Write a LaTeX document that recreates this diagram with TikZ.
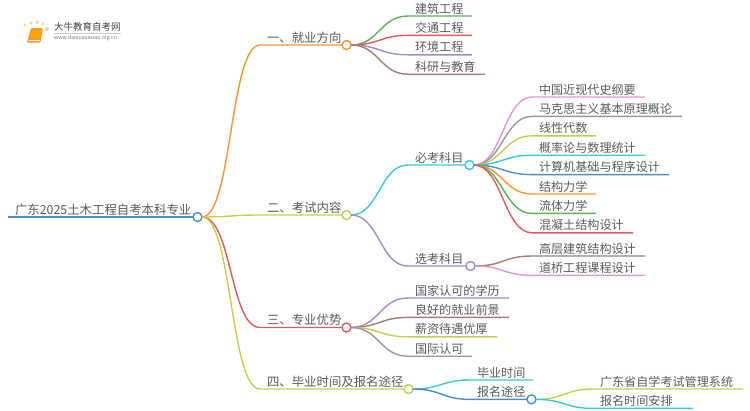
\documentclass[tikz,border=0pt]{standalone}
\usepackage{fontspec}
\setmainfont{Noto Sans CJK SC}
\usetikzlibrary{positioning}
\definecolor{cBlue}{HTML}{4A90C8}
\definecolor{cOrange}{HTML}{FF9433}
\definecolor{cOlive}{HTML}{CBCB52}
\definecolor{cRed}{HTML}{E05A5B}
\definecolor{cGreen}{HTML}{56B356}
\definecolor{cPurple}{HTML}{A988CC}
\definecolor{cBrown}{HTML}{A37D75}
\definecolor{cPink}{HTML}{EB93D2}
\definecolor{cGray}{HTML}{999999}
\definecolor{cCyan}{HTML}{38C9DA}
\definecolor{cText}{HTML}{5A5A5A}
\begin{document}
\begin{tikzpicture}[x=1pt,y=-1pt,
 topic/.style={anchor=south west,inner sep=0pt,outer sep=0pt,text width=#1,text height=11pt,text depth=3pt,font=\fontsize{12.1}{14}\selectfont,text=cText,execute at begin node=\hspace*{7pt}},
 major/.style={font=\fontsize{12.4}{14}\selectfont},
 next/.style={below=19.4pt of #1.south west,anchor=south west},
 hub/.style={circle,draw=#1,fill=white,line width=1.4pt,inner sep=0pt,outer sep=0pt,minimum size=9pt,right=0pt},
 wire/.style={line width=1.4pt,draw=#1,line join=round},
 curve/.style={out=0,in=180,distance=#1}]
\useasboundingbox (0,0) rectangle (750,410);
% logo
\fill[cOrange!45] (25,25) circle (1.6) (31,23) circle (1.8) (37,22) circle (1.8) (43,24) circle (1.7) (47,29) circle (2);
\fill[cOrange!25] (22,30) circle (1.2) (21,36) circle (1) (23,42) circle (.9);
\fill[rounded corners=1pt,cOrange] (31,28) -- (43,28) -- (40.5,42.5) -- (27,42.5) -- cycle;
\fill[rounded corners=1pt,orange!70!yellow] (32,29) -- (42,29) -- (40,38) -- (30,38) -- cycle;
\draw[white,line width=.6pt] (28.5,40.5) -- (39.5,40.5);
\node[anchor=west,inner sep=0pt,font=\fontsize{9.5}{11}\selectfont,text=black!75] (logoName) at (54,27) {大牛教育自考网};
\node[anchor=west,inner sep=0pt,font=\fontsize{5.2}{6}\selectfont,text=black!55] (logoUrl) at (54,38.5) {www.daniuxuexiao.org.cn};
\draw[black!20,line width=.5pt] (logoName.south west)++(0,1.5) -- ++(67,0);
% nodes
\node[topic=185pt,major] (root) at (8,217) {广东2025土木工程自考本科专业};
\node[hub=cBlue,right=0pt of root.south east] (hubRoot) {};
\node[topic=82pt,major] (jobs) at (260,45) {一、就业方向};
\node[hub=cOrange,right=0pt of jobs.south east] (hubJobs) {};
\node[topic=82pt,major] (exam) at (260,215) {二、考试内容};
\node[hub=cOlive,right=0pt of exam.south east] (hubExam) {};
\node[topic=82pt,major] (gain) at (260,327.5) {三、专业优势};
\node[hub=cRed,right=0pt of gain.south east] (hubGain) {};
\node[topic=144pt,major] (apply) at (260,389) {四、毕业时间及报名途径};
\node[hub=cOlive,right=0pt of apply.south east] (hubApply) {};
\node[topic=64pt] (civil) at (408,16) {建筑工程};
\node[topic=64pt,next=civil] (traffic) {交通工程};
\node[topic=64pt,next=traffic] (envir) {环境工程};
\node[topic=77pt,next=envir] (research) {科研与教育};
\node[topic=57pt] (must) at (408,165) {必考科目};
\node[hub=cCyan,right=0pt of must.south east] (hubMust) {};
\node[topic=113pt] (history) at (532,97) {中国近现代史纲要};
\node[topic=150pt,next=history] (marx) {马克思主义基本原理概论};
\node[topic=64pt,next=marx] (algebra) {线性代数};
\node[topic=113pt,next=algebra] (stats) {概率论与数理统计};
\node[topic=137pt,next=stats] (program) {计算机基础与程序设计};
\node[topic=64pt,next=program] (struct) {结构力学};
\node[topic=64pt,next=struct] (fluid) {流体力学};
\node[topic=101pt,next=fluid] (concrete) {混凝土结构设计};
\node[topic=58pt] (option) at (408,266) {选考科目};
\node[hub=cPurple,right=0pt of option.south east] (hubOption) {};
\node[topic=113pt] (tower) at (532,256) {高层建筑结构设计};
\node[topic=113pt,next=tower] (bridge) {道桥工程课程设计};
\node[topic=101pt] (degree) at (408,298) {国家认可的学历};
\node[topic=101pt,next=degree] (future) {良好的就业前景};
\node[topic=89pt,next=future] (salary) {薪资待遇优厚};
\node[topic=64pt,next=salary] (global) {国际认可};
\node[topic=63pt] (gradtime) at (470,380) {毕业时间};
\node[topic=57pt,next=gradtime] (route) {报名途径};
\node[hub=cBlue,right=0pt of route.south east] (hubRoute) {};
\node[topic=150pt] (system) at (593,389) {广东省自学考试管理系统};
\node[topic=100pt,next=system] (schedule) {报名时间安排};
% connectors
\draw[wire=cBlue] (root.south west) -- (hubRoot.west);
\draw[wire=cOrange] (hubRoot.east) to[curve=30pt] (jobs.south west) -- (hubJobs.west);
\draw[wire=cOlive] (hubRoot.east) to[curve=30pt] (exam.south west) -- (hubExam.west);
\draw[wire=cRed] (hubRoot.east) to[curve=30pt] (gain.south west) -- (hubGain.west);
\draw[wire=cOlive] (hubRoot.east) to[curve=30pt] (apply.south west) -- (hubApply.west);
\draw[wire=cGreen] (hubJobs.east) to[curve=28pt] (civil.south west) -- (civil.south east);
\draw[wire=cRed] (hubJobs.east) to[curve=28pt] (traffic.south west) -- (traffic.south east);
\draw[wire=cPurple] (hubJobs.east) to[curve=28pt] (envir.south west) -- (envir.south east);
\draw[wire=cBrown] (hubJobs.east) to[curve=28pt] (research.south west) -- (research.south east);
\draw[wire=cCyan] (hubExam.east) to[curve=28pt] (must.south west) -- (hubMust.west);
\draw[wire=cPurple] (hubExam.east) to[curve=28pt] (option.south west) -- (hubOption.west);
\draw[wire=cPink] (hubMust.east) to[curve=28pt] (history.south west) -- (history.south east);
\draw[wire=cGray] (hubMust.east) to[curve=28pt] (marx.south west) -- (marx.south east);
\draw[wire=cOlive] (hubMust.east) to[curve=28pt] (algebra.south west) -- (algebra.south east);
\draw[wire=cCyan] (hubMust.east) to[curve=28pt] (stats.south west) -- (stats.south east);
\draw[wire=cBlue] (hubMust.east) to[curve=28pt] (program.south west) -- (program.south east);
\draw[wire=cOrange] (hubMust.east) to[curve=28pt] (struct.south west) -- (struct.south east);
\draw[wire=cGreen] (hubMust.east) to[curve=28pt] (fluid.south west) -- (fluid.south east);
\draw[wire=cRed] (hubMust.east) to[curve=28pt] (concrete.south west) -- (concrete.south east);
\draw[wire=cBrown] (hubOption.east) to[curve=28pt] (tower.south west) -- (tower.south east);
\draw[wire=cPink] (hubOption.east) to[curve=28pt] (bridge.south west) -- (bridge.south east);
\draw[wire=cPurple] (hubGain.east) to[curve=28pt] (degree.south west) -- (degree.south east);
\draw[wire=cBrown] (hubGain.east) to[curve=28pt] (future.south west) -- (future.south east);
\draw[wire=cOlive] (hubGain.east) to[curve=28pt] (salary.south west) -- (salary.south east);
\draw[wire=cGray] (hubGain.east) to[curve=28pt] (global.south west) -- (global.south east);
\draw[wire=cCyan] (hubApply.east) to[curve=28pt] (gradtime.south west) -- (gradtime.south east);
\draw[wire=cBlue] (hubApply.east) to[curve=28pt] (route.south west) -- (hubRoute.west);
\draw[wire=cOlive] (hubRoute.east) to[curve=28pt] (system.south west) -- (system.south east);
\draw[wire=cCyan] (hubRoute.east) to[curve=28pt] (schedule.south west) -- (schedule.south east);
\end{tikzpicture}
\end{document}
